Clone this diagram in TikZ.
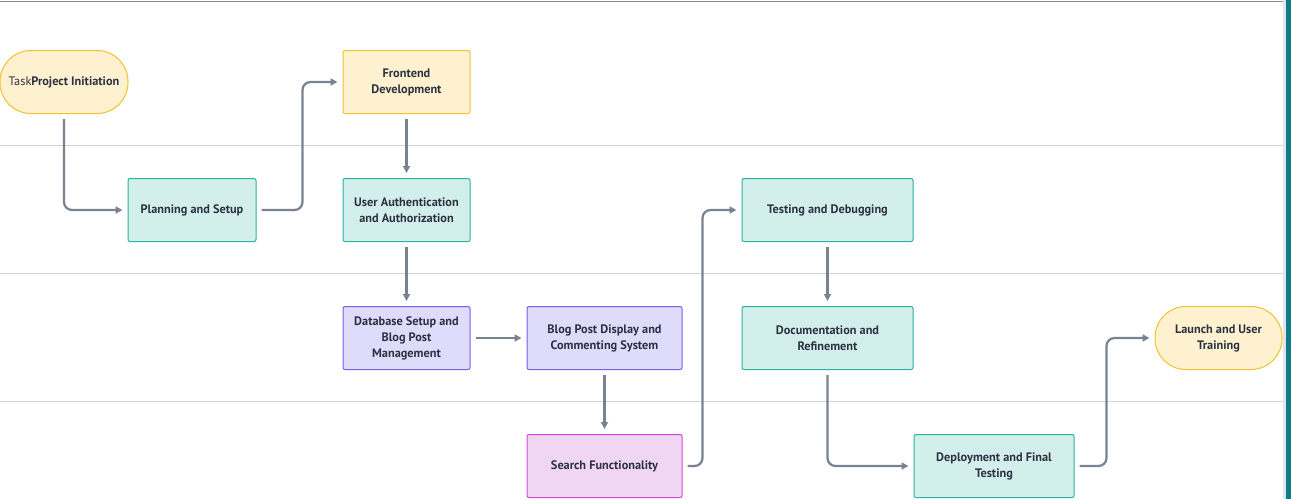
\documentclass[tikz,border=0pt]{standalone}
\usepackage{fontspec}
\setmainfont{PT Sans}
\usepackage{tikz}
\usepackage{xcolor}
\usetikzlibrary{arrows.meta, positioning, calc}
\definecolor{LaneGray}{HTML}{CDD3DA}
\definecolor{EdgeGray}{HTML}{7D8896}
\definecolor{FlowGray}{HTML}{78838F}
\definecolor{InkDark}{HTML}{2D3142}
\definecolor{SunFill}{HTML}{FDF1D0}
\definecolor{SunLine}{HTML}{F3C12F}
\definecolor{MintFill}{HTML}{D3EFEC}
\definecolor{MintLine}{HTML}{27B3A0}
\definecolor{LilacFill}{HTML}{DFDCFB}
\definecolor{LilacLine}{HTML}{7A5CF0}
\definecolor{OrchidFill}{HTML}{F1D6F4}
\definecolor{OrchidLine}{HTML}{D643D9}
\definecolor{TealBar}{HTML}{0E7C86}
\tikzset{
    task/.style={draw, line width=1pt, rounded corners=2pt, minimum height=63pt,
                 align=center, text=InkDark, inner sep=2pt,
                 font=\fontsize{12.3}{16}\selectfont\bfseries},
    sunbox/.style={task, fill=SunFill, draw=SunLine},
    mintbox/.style={task, fill=MintFill, draw=MintLine},
    lilacbox/.style={task, fill=LilacFill, draw=LilacLine},
    orchidbox/.style={task, fill=OrchidFill, draw=OrchidLine},
    terminal/.style={sunbox, rounded corners=31pt},
    flow/.style={draw=FlowGray, line width=2.2pt, rounded corners=8pt,
                 -{Triangle[length=7pt, width=7pt]}, shorten >=5pt, shorten <=5pt},
}

\begin{document}
\begin{tikzpicture}[x=1pt, y=-1pt]
    \useasboundingbox (0,0) rectangle (1291,499);

    % Lanes
    \draw[EdgeGray, line width=1pt] (0,1.5) -- (1284,1.5);
    \draw[LaneGray, line width=1pt] (0,145) -- (1284,145);
    \draw[LaneGray, line width=1pt] (0,273) -- (1284,273);
    \draw[LaneGray, line width=1pt] (0,401) -- (1284,401);
    \fill[LaneGray!60] (1283,0) rectangle (1286,499);
    \fill[TealBar] (1286,0) rectangle (1291,499);

    % Nodes
    \node[terminal, minimum width=128pt] (init) at (64,82)
        {\mdseries Task\bfseries Project Initiation};
    \node[sunbox, minimum width=127pt] (front) at (406.5,82) {Frontend\\Development};
    \node[mintbox, minimum width=128pt] (plan) at (192,210) {Planning and Setup};
    \node[mintbox, minimum width=127pt] (auth) at (406.5,210)
        {User Authentication\\and Authorization};
    \node[mintbox, minimum width=171pt] (test) at (827.5,210) {Testing and Debugging};
    \node[lilacbox, minimum width=127pt] (db) at (406.5,338)
        {Database Setup and\\Blog Post\\Management};
    \node[lilacbox, minimum width=155pt] (blog) at (604.5,338)
        {Blog Post Display and\\Commenting System};
    \node[mintbox, minimum width=171pt] (docs) at (827.5,338)
        {Documentation and\\Refinement};
    \node[terminal, minimum width=127pt] (launch) at (1218.5,338)
        {Launch and User\\Training};
    \node[orchidbox, minimum width=155pt] (search) at (604.5,466) {Search Functionality};
    \node[mintbox, minimum width=160pt] (deploy) at (994,466)
        {Deployment and Final\\Testing};

    % Connectors
    \draw[flow] (init.south) |- (plan.west);
    \draw[flow] (plan.east) -- ++(46,0) |- (front.west);
    \draw[flow] (front) -- (auth);
    \draw[flow] (auth) -- (db);
    \draw[flow] (db) -- (blog);
    \draw[flow] (blog) -- (search);
    \draw[flow] (search.east) -- ++(20,0) |- (test.west);
    \draw[flow] (test) -- (docs);
    \draw[flow] (docs.south) |- (deploy.west);
    \draw[flow] (deploy.east) -- ++(32,0) |- (launch.west);
\end{tikzpicture}
\end{document}
